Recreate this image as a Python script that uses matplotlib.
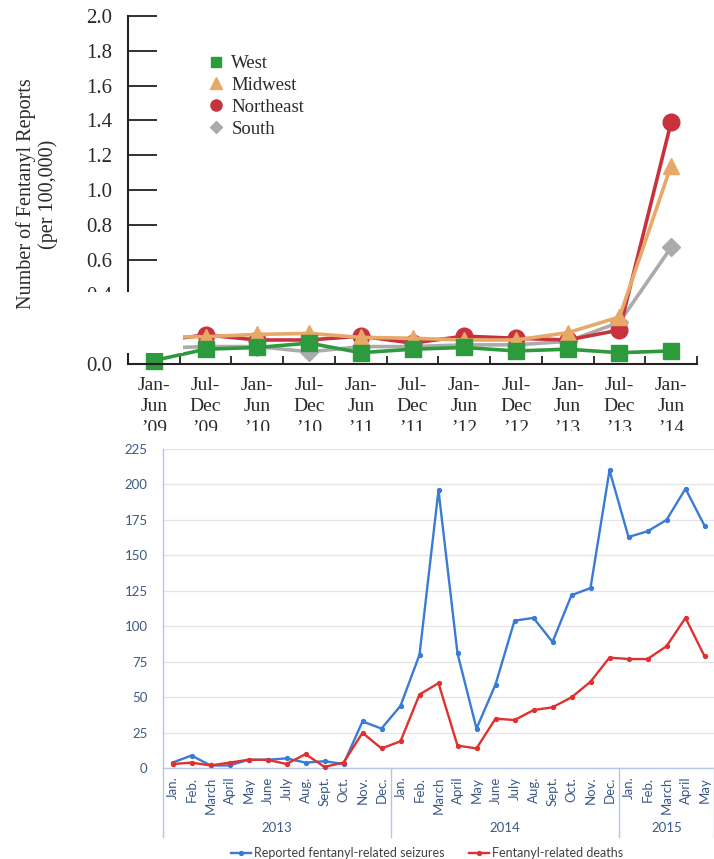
import matplotlib
matplotlib.use("Agg")
import matplotlib.pyplot as plt
from matplotlib.patches import Rectangle
from matplotlib.lines import Line2D
from matplotlib.transforms import blended_transform_factory
import numpy as np

# ---------------- data: top chart ----------------
periods = ["Jan-\nJun\n\u201909", "Jul-\nDec\n\u201909", "Jan-\nJun\n\u201910", "Jul-\nDec\n\u201910",
           "Jan-\nJun\n\u201911", "Jul-\nDec\n\u201911", "Jan-\nJun\n\u201912", "Jul-\nDec\n\u201912",
           "Jan-\nJun\n\u201913", "Jul-\nDec\n\u201913", "Jan-\nJun\n\u201914"]
west = [0.02, 0.085, 0.095, 0.12, 0.065, 0.085, 0.095, 0.075, 0.085, 0.065, 0.075]
midwest = [0.155, 0.157, 0.17, 0.176, 0.153, 0.148, 0.138, 0.138, 0.18, 0.27, 1.14]
northeast = [0.13, 0.167, 0.138, 0.138, 0.16, 0.12, 0.16, 0.148, 0.138, 0.195, 1.39]
south = [0.09, 0.10, 0.10, 0.07, 0.10, 0.10, 0.11, 0.11, 0.13, 0.24, 0.67]
top_yticks = [0.0, 0.2, 0.4, 0.6, 0.8, 1.0, 1.2, 1.4, 1.6, 1.8, 2.0]

# ---------------- data: bottom chart ----------------
months = ["Jan.", "Feb.", "March", "April", "May", "June", "July", "Aug.", "Sept.", "Oct.", "Nov.", "Dec.",
          "Jan.", "Feb.", "March", "April", "May", "June", "July", "Aug.", "Sept.", "Oct.", "Nov.", "Dec.",
          "Jan.", "Feb.", "March", "April", "May"]
seizures = [4, 9, 2, 2, 6, 6, 7, 4, 5, 3, 33, 28, 44, 80, 196, 81, 28, 59, 104, 106, 89, 122, 127, 210,
            163, 167, 175, 197, 171]
deaths = [3, 4, 2, 4, 6, 6, 3, 10, 1, 4, 25, 14, 19, 52, 60, 16, 14, 35, 34, 41, 43, 50, 61, 78,
          77, 77, 86, 106, 79]
years = ["2013", "2014", "2015"]
year_counts = [12, 12, 5]
bottom_yticks = [0, 25, 50, 75, 100, 125, 150, 175, 200, 225]

# ---------------- figure ----------------
W, H = 714, 859
plt.rcParams['font.family'] = ['Liberation Serif', 'DejaVu Serif']
fig = plt.figure(figsize=(W / 100, H / 100), dpi=100)


def fx(px):
    return px / W


def fy(py):
    return 1 - py / H


# ---------------- top chart ----------------
ax1 = fig.add_axes([fx(128), fy(364), fx(697) - fx(128), fy(16) - fy(364)])
ax1.set_zorder(0)
x = np.arange(len(periods))
c_west, c_mid, c_ne, c_south = '#2E9A3E', '#E8A867', '#C8323F', '#ABABAB'
series = [("South", south, c_south, 'D', 9),
          ("Northeast", northeast, c_ne, 'o', 12),
          ("Midwest", midwest, c_mid, '^', 11),
          ("West", west, c_west, 's', 11.5)]
for name, vals, c, m, ms in series:
    ax1.plot(x, vals, color=c, lw=2.6, marker=m, ms=ms, clip_on=False, label=name)

ax1.set_xlim(-0.5, 10.5)
ax1.set_ylim(0, 2.0)
ax1.set_yticks(top_yticks)
ax1.set_yticklabels([f"{v:.1f}" for v in top_yticks])
ax1.tick_params(axis='y', direction='in', length=21, width=1.3, pad=11.5,
                labelsize=15, color='#222222', labelcolor='#2a2a2a')
ax1.set_xticks(x)
ax1.set_xticklabels(periods, fontsize=14, linespacing=1.32, color='#2a2a2a')
ax1.tick_params(axis='x', which='major', length=0, pad=9.5)
ax1.set_xticks(np.arange(0.5, 11, 1.0), minor=True)
ax1.tick_params(axis='x', which='minor', direction='in', length=6, width=1.3, color='#222222')
for s in ['top', 'right']:
    ax1.spines[s].set_visible(False)
for s in ['left', 'bottom']:
    ax1.spines[s].set_linewidth(1.5)
    ax1.spines[s].set_color('#222222')

leg_handles = [Line2D([], [], ls='none', marker='s', color=c_west, ms=7),
               Line2D([], [], ls='none', marker='^', color=c_mid, ms=8),
               Line2D([], [], ls='none', marker='o', color=c_ne, ms=8),
               Line2D([], [], ls='none', marker='D', color=c_south, ms=6.5)]
ax1.legend(leg_handles, ["West", "Midwest", "Northeast", "South"], loc='upper left',
           bbox_to_anchor=(fx(207), fy(55)), bbox_transform=fig.transFigure, frameon=False,
           fontsize=13.5, handlelength=1.0, handletextpad=0.3, labelspacing=0.25,
           borderpad=0, borderaxespad=0, labelcolor='#2a2a2a')

fig.text(fx(37), fy(194), "Number of Fentanyl Reports\n(per 100,000)", rotation=90,
         ha='center', va='center', fontsize=14.5, multialignment='center',
         linespacing=1.2, color='#2a2a2a')

# white patch of the pasted image cut
fig.add_artist(Rectangle((fx(60), fy(353)), fx(183) - fx(60), fy(292) - fy(353),
                         transform=fig.transFigure, facecolor='white', edgecolor='none', zorder=1))
# white background of the lower image
fig.add_artist(Rectangle((0, 0), 1, fy(431), transform=fig.transFigure,
                         facecolor='white', edgecolor='none', zorder=1))

# ---------------- bottom chart ----------------
sans = ['Lato', 'DejaVu Sans']
ax2 = fig.add_axes([fx(163), fy(768.3), fx(714) - fx(163), fy(449) - fy(768.3)])
ax2.set_zorder(2)
mx = np.arange(len(months))
ax2.plot(mx, seizures, color='#3A7BD5', lw=1.7, marker='o', ms=2.8,
         label='Reported fentanyl-related seizures', clip_on=False, zorder=3)
ax2.plot(mx, deaths, color='#E03131', lw=1.7, marker='o', ms=2.8,
         label='Fentanyl-related deaths', clip_on=False, zorder=3)
ax2.set_xlim(-0.5, len(months) - 0.5)
ax2.set_ylim(0, 225)
ax2.set_yticks(bottom_yticks)
ax2.set_yticklabels([str(v) for v in bottom_yticks], fontfamily=sans, fontsize=9.5,
                    color='#3B5A86')
ax2.tick_params(axis='y', length=0, pad=11)
ax2.set_xticks(mx)
ax2.set_xticklabels(months, rotation=90, fontfamily=sans, fontsize=9.5, color='#3B5A86')
ax2.tick_params(axis='x', length=0, pad=6)
ax2.grid(axis='y', color='#E4E4E4', lw=0.9)
ax2.set_axisbelow(True)
for s in ['top', 'right']:
    ax2.spines[s].set_visible(False)
for s in ['left', 'bottom']:
    ax2.spines[s].set_color('#B4C7E7')
    ax2.spines[s].set_linewidth(1.0)

trans = blended_transform_factory(ax2.transData, ax2.transAxes)
bounds = np.concatenate([[0], np.cumsum(year_counts)]) - 0.5
for b in bounds:
    ax2.plot([b, b], [0, -0.214], transform=trans, color='#B4C7E7', lw=1.0, clip_on=False)
for i, yr in enumerate(years):
    ax2.text((bounds[i] + bounds[i + 1]) / 2, -0.187, yr, transform=trans, ha='center',
             va='center', fontfamily=sans, fontsize=9.5, color='#3B5A86')

ax2.legend(loc='center', bbox_to_anchor=(0.479, -0.265), ncol=2, frameon=False,
           prop={'family': sans, 'size': 9}, handlelength=1.6, handletextpad=0.2,
           columnspacing=2.0, labelcolor='#404040')

fig.savefig("out.png", dpi=100, facecolor='white')
